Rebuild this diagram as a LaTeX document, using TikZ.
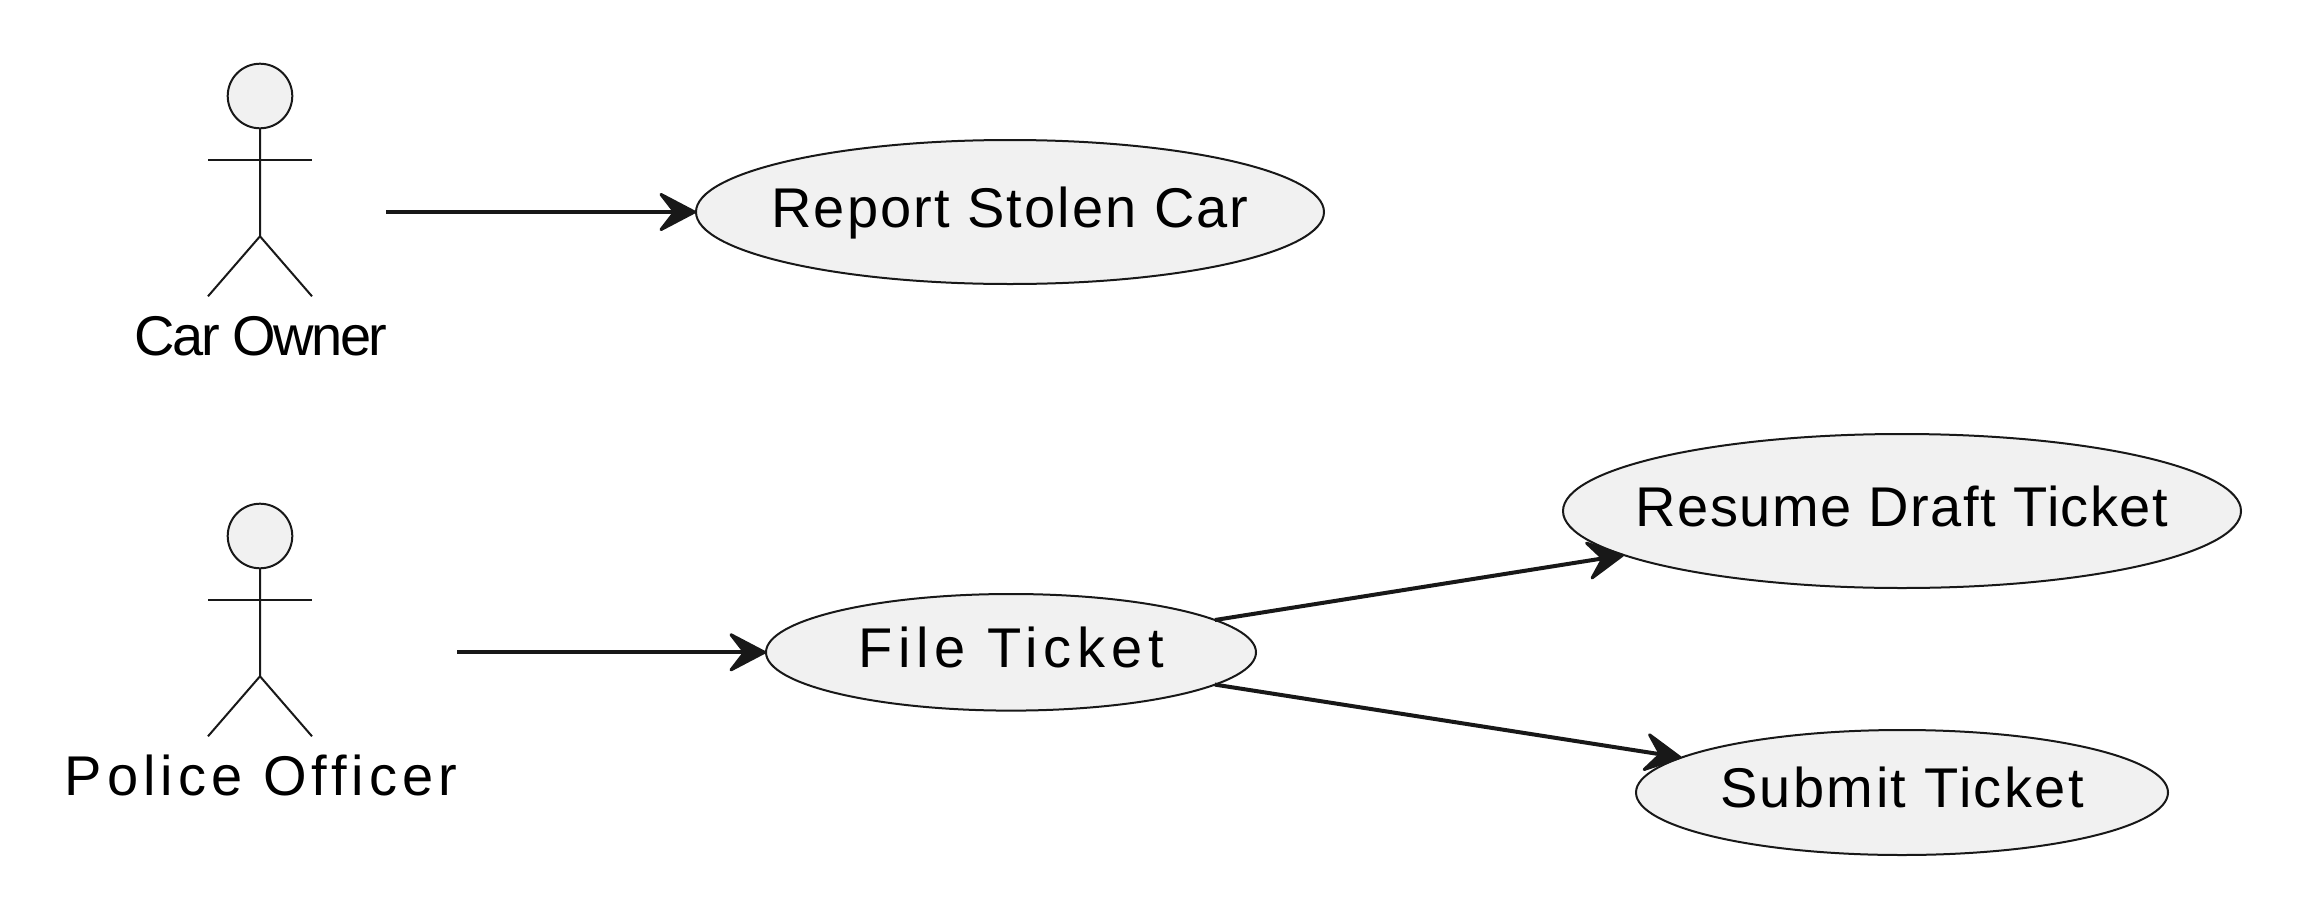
\documentclass[tikz,border=0pt]{standalone}
\usepackage{fontspec}
\setmainfont{Liberation Sans}[Ligatures=NoCommon]
\usetikzlibrary{shapes.geometric, arrows.meta}
\definecolor{umlfill}{HTML}{F1F1F1}
\definecolor{umlline}{HTML}{181818}
\tikzset{
    tracked/.style={font={\fontsize{28}{32}\selectfont\addfontfeature{LetterSpace=#1}}},
    usecase/.style={ellipse, draw=umlline, fill=umlfill, line width=1pt, inner ysep=0pt, inner xsep=-15pt, outer sep=0pt, text height=20pt, text depth=5pt},
    actorhead/.style={circle, draw=umlline, fill=umlfill, line width=1pt, inner sep=0pt, outer sep=0pt, minimum size=32.3pt},
    actorline/.style={draw=umlline, line width=1pt},
    actorname/.style={anchor=base, inner sep=0pt, outer sep=0pt},
    flow/.style={->, draw=umlline, line width=2pt}
}
\begin{document}
\begin{tikzpicture}[x=.5pt, y=-.5pt, >={Stealth[length=21pt,width=22pt,inset=8.5pt,line width=1.5pt,round]}]
    \useasboundingbox (0,0) rectangle (2304,916);
    % actors
    \node[actorhead] (ownerhead) at (260,96) {};
    \draw[actorline] (ownerhead.south) -- ++(0,108) -- ++(-52,60);
    \draw[actorline] (ownerhead.south) ++(0,108) -- ++(52,60);
    \draw[actorline] (ownerhead.south) ++(-52,31.5) -- ++(104,0);
    \node[actorname, tracked=-4.6] (ownerlabel) at (261,355) {Car Owner};
    \node[actorhead] (policehead) at (260,536) {};
    \draw[actorline] (policehead.south) -- ++(0,108) -- ++(-52,60);
    \draw[actorline] (policehead.south) ++(0,108) -- ++(52,60);
    \draw[actorline] (policehead.south) ++(-52,31.5) -- ++(104,0);
    \node[actorname, tracked=9] (policelabel) at (261,795) {Police Officer};
    % use cases
    \node[usecase, tracked=3.7, minimum width=314pt, minimum height=72pt] (report) at (1010,212) {Report Stolen Car};
    \node[usecase, tracked=10.5, minimum width=245pt, minimum height=58.3pt] (file) at (1011,652.3) {File Ticket};
    \node[usecase, tracked=2.7, minimum width=339pt, minimum height=77pt] (resume) at (1902,511) {Resume Draft Ticket};
    \node[usecase, tracked=4.35, minimum width=266pt, minimum height=62.5pt] (submit) at (1902,792.5) {Submit Ticket};
    % connectors
    \coordinate (ownerout) at (386,212);
    \coordinate (policeout) at (457,652.3);
    \draw[flow] (ownerout) -- (report.west);
    \draw[flow] (policeout) -- (file.west);
    \draw[flow] (file.9) -- (resume.189);
    \draw[flow] (file.351) -- (submit.171);
\end{tikzpicture}
\end{document}
